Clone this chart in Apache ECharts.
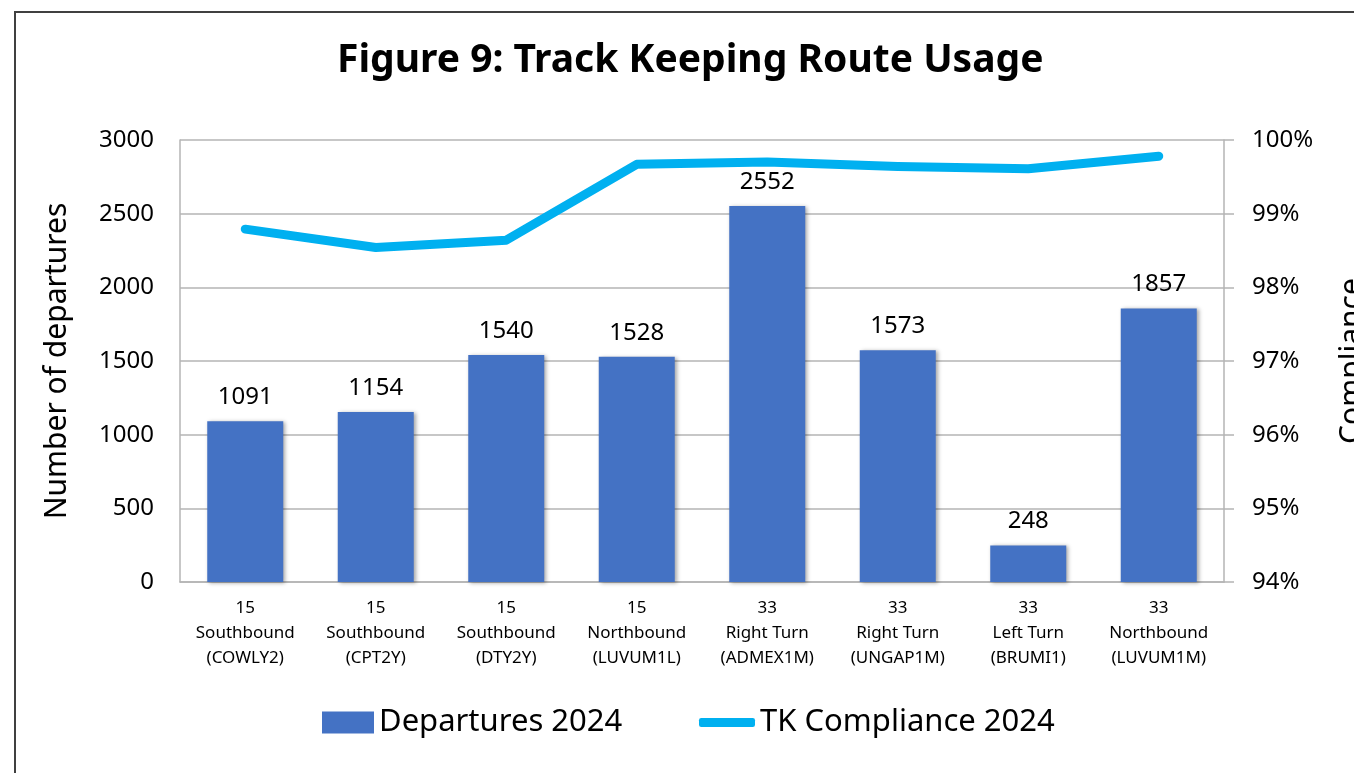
<!DOCTYPE html>
<html>
<head>
<meta charset="utf-8">
<script src="https://cdn.jsdelivr.net/npm/echarts@6.0.0/dist/echarts.min.js"></script>
<style>
  html, body { margin: 0; padding: 0; background: #fff; }
  #chart { width: 1354px; height: 773px; }
</style>
</head>
<body>
<div id="chart"></div>
<script>
  // rutas de salida y valores
  var ROUTES = [
    "15\nSouthbound\n(COWLY2)", "15\nSouthbound\n(CPT2Y)", "15\nSouthbound\n(DTY2Y)",
    "15\nNorthbound\n(LUVUM1L)", "33\nRight Turn\n(ADMEX1M)", "33\nRight Turn\n(UNGAP1M)",
    "33\nLeft Turn\n(BRUMI1)", "33\nNorthbound\n(LUVUM1M)"
  ];
  var DEPARTURES = [1091, 1154, 1540, 1528, 2552, 1573, 248, 1857];
  var COMPLIANCE = [98.79, 98.54, 98.64, 99.67, 99.70, 99.64, 99.61, 99.78];
  var LEFT_TICKS = { min: 0, max: 3000, step: 500 };
  var RIGHT_TICKS = { min: 94, max: 100, step: 1 };

  var FONT = "Noto Sans";
  var GRID = "#b4b4b4";

  var chart = echarts.init(document.getElementById("chart"), null, { renderer: "canvas" });

  chart.setOption({
    backgroundColor: "#fff",
    animation: false,
    graphic: [{
      type: "rect", z: 100, silent: true,
      shape: { x: 15, y: 12, width: 1500, height: 900 },
      style: { fill: "none", stroke: "#404040", lineWidth: 2 }
    }],
    title: {
      text: "Figure 9: Track Keeping Route Usage",
      left: 337, top: 41, padding: 0,
      textStyle: { fontFamily: FONT, fontWeight: "bold", fontSize: 39, color: "#000" }
    },
    legend: [{
      data: ["Departures 2024"], left: 322, top: 707, padding: 0,
      itemWidth: 52, itemHeight: 22, icon: "rect",
      textStyle: { fontFamily: FONT, fontSize: 31, color: "#000" }
    }, {
      data: ["TK Compliance 2024"], left: 699, top: 707, padding: 0,
      itemWidth: 56, itemHeight: 9, icon: "roundRect",
      textStyle: { fontFamily: FONT, fontSize: 31, color: "#000" }
    }],
    grid: { left: 180, right: 130, top: 140, bottom: 191, outerBoundsMode: "none", containLabel: false },
    xAxis: {
      type: "category", data: ROUTES,
      axisLine: { lineStyle: { color: GRID, width: 1.5 } },
      axisTick: { show: false },
      axisLabel: {
        interval: 0, margin: 14, lineHeight: 25,
        fontFamily: FONT, fontSize: 17, color: "#000"
      }
    },
    yAxis: [{
      type: "value", min: LEFT_TICKS.min, max: LEFT_TICKS.max, interval: LEFT_TICKS.step,
      name: "Number of departures", nameLocation: "middle", nameGap: 108, nameRotate: 90,
      nameTextStyle: { fontFamily: FONT, fontSize: 30, color: "#000" },
      axisLine: { show: true, lineStyle: { color: GRID, width: 1.5 } },
      axisTick: { show: false },
      axisLabel: {
        margin: 26, fontFamily: FONT, fontSize: 24, color: "#000",
        formatter: function (v) { return String(v); }
      },
      splitLine: { lineStyle: { color: GRID, width: 1.5 } }
    }, {
      type: "value", min: RIGHT_TICKS.min, max: RIGHT_TICKS.max, interval: RIGHT_TICKS.step,
      position: "right",
      name: "Compliance", nameLocation: "middle", nameGap: 113, nameRotate: 90,
      nameTextStyle: { fontFamily: FONT, fontSize: 30, color: "#000", verticalAlign: "top" },
      axisLine: { show: true, lineStyle: { color: GRID, width: 1.5 } },
      axisTick: { show: true, length: 10, lineStyle: { color: GRID, width: 1.5 } },
      axisLabel: { margin: 28, fontFamily: FONT, fontSize: 24, color: "#000", formatter: "{value}%" },
      splitLine: { show: false }
    }],
    series: [{
      name: "Departures 2024", type: "bar", data: DEPARTURES, yAxisIndex: 0,
      barWidth: 76,
      itemStyle: { color: "#4472C4", shadowBlur: 4, shadowColor: "rgba(0,0,0,0.35)", shadowOffsetX: 2, shadowOffsetY: 1 },
      label: { show: true, position: "top", distance: 12, fontFamily: FONT, fontSize: 24, color: "#000" }
    }, {
      name: "TK Compliance 2024", type: "line", data: COMPLIANCE, yAxisIndex: 1,
      showSymbol: false, symbol: "none", z: 3,
      lineStyle: { color: "#00B0F0", width: 9, cap: "round", join: "round" },
      itemStyle: { color: "#00B0F0" }
    }]
  });
</script>
</body>
</html>
